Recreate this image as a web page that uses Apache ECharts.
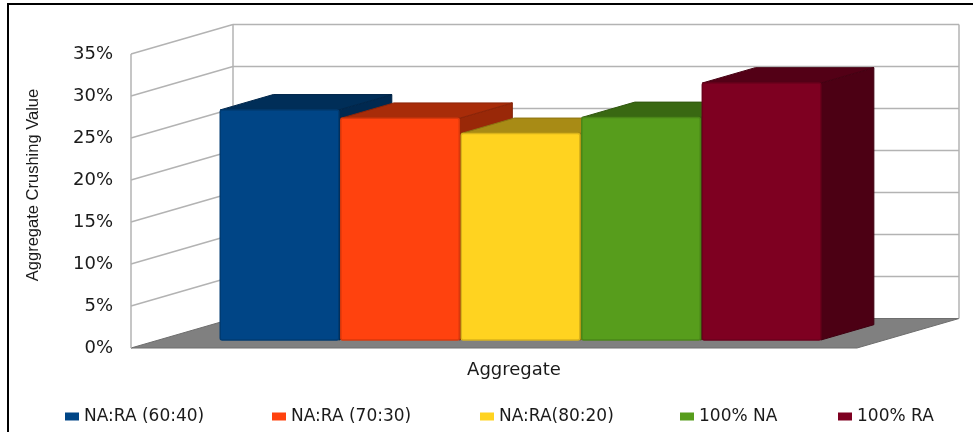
<!DOCTYPE html>
<html>
<head>
<meta charset="utf-8">
<script src="https://cdn.jsdelivr.net/npm/echarts@6/dist/echarts.min.js"></script>
<style>
  html, body { margin: 0; background: #fff; }
  #chart { width: 973px; height: 432px; }
</style>
</head>
<body>
<div id="chart"></div>
<script>
// data
const categories = ['Aggregate'];
const seriesNames = ['NA:RA (60:40)', 'NA:RA (70:30)', 'NA:RA(80:20)', '100% NA', '100% RA'];
const seriesValues = [27.4, 26.4, 24.6, 26.5, 30.6];
const yTicks = [0, 5, 10, 15, 20, 25, 30, 35];

const colors = ['#004586', '#ff420e', '#ffd320', '#579d1c', '#7e0021'];
const legendLeft = [60, 267, 475, 675, 833];

// oblique 3d look: full depth of the floor in pixels
const DX = 102, DY = -29.5;
const BAR_FRONT = 0.27, BAR_BACK = 0.79;
const GROUP = 0.83;
const GRID_LINE = '#b3b3b3';

function shade(hex, f) {
  const n = parseInt(hex.slice(1), 16);
  const r = Math.round(((n >> 16) & 255) * f);
  const g = Math.round(((n >> 8) & 255) * f);
  const b = Math.round((n & 255) * f);
  return 'rgb(' + r + ',' + g + ',' + b + ')';
}

function renderFrame(params, api) {
  const cs = params.coordSys;
  const x0 = cs.x, x1 = cs.x + cs.width;
  const y0 = api.coord([0, yTicks[0]])[1];
  const yTop = api.coord([0, yTicks[yTicks.length - 1]])[1];
  const line = (a, b) => ({
    type: 'line',
    shape: { x1: a[0], y1: a[1], x2: b[0], y2: b[1] },
    style: { stroke: GRID_LINE, lineWidth: 1.5 }
  });
  const children = [
    { type: 'polygon', shape: { points: [[x0, y0], [x0 + DX, y0 + DY], [x1 + DX, y0 + DY], [x1, y0]] },
      style: { fill: '#808080', stroke: '#6e6e6e', lineWidth: 1 } }
  ];
  yTicks.forEach(function (t) {
    if (t === 0) return;
    const y = api.coord([0, t])[1];
    children.push(line([x0, y], [x0 + DX, y + DY]));
    children.push(line([x0 + DX, y + DY], [x1 + DX, y + DY]));
  });
  children.push(line([x0, y0], [x0, yTop]));
  children.push(line([x0 + DX, y0 + DY], [x0 + DX, yTop + DY]));
  children.push(line([x1 + DX, y0 + DY], [x1 + DX, yTop + DY]));
  return { type: 'group', children: children };
}

function renderBar(params, api) {
  const i = params.seriesIndex - 1;
  const base = api.coord([api.value(0), 0]);
  const top = api.coord([api.value(0), api.value(1)]);
  const band = api.size([1, 0])[0];
  const barW = band * GROUP / seriesNames.length;
  const left = base[0] - band * GROUP / 2 + i * barW;
  const xl = left + BAR_FRONT * DX, xr = left + barW - 2 + BAR_FRONT * DX;
  const yb = base[1] + BAR_FRONT * DY, yt = top[1] + BAR_FRONT * DY;
  const ddx = (BAR_BACK - BAR_FRONT) * DX, ddy = (BAR_BACK - BAR_FRONT) * DY;
  const c = colors[i];
  return {
    type: 'group',
    children: [
      { type: 'polygon', shape: { points: [[xr, yt], [xr + ddx, yt + ddy], [xr + ddx, yb + ddy], [xr, yb]] },
        style: { fill: shade(c, 0.6), stroke: shade(c, 0.5), lineWidth: 1 } },
      { type: 'polygon', shape: { points: [[xl, yt], [xl + ddx, yt + ddy], [xr + ddx, yt + ddy], [xr, yt]] },
        style: { fill: shade(c, 0.66), stroke: shade(c, 0.55), lineWidth: 1 } },
      { type: 'rect', shape: { x: xl, y: yt, width: xr - xl, height: yb - yt, r: 2 },
        style: { fill: c, stroke: shade(c, 0.85), lineWidth: 1.5 } }
    ]
  };
}

const chart = echarts.init(document.getElementById('chart'));

const series = [{
  type: 'custom',
  name: 'frame',
  renderItem: renderFrame,
  data: [[0, 0]],
  silent: true,
  z: 1
}];
seriesNames.forEach(function (name, i) {
  series.push({
    type: 'custom',
    name: name,
    renderItem: renderBar,
    itemStyle: { color: colors[i] },
    encode: { x: 0, y: 1 },
    data: [[0, seriesValues[i]]],
    z: 2
  });
});

chart.setOption({
  animation: false,
  backgroundColor: '#fff',
  graphic: [{
    type: 'rect',
    shape: { x: 8, y: 4, width: 1000, height: 500 },
    style: { fill: 'transparent', stroke: '#000', lineWidth: 2 },
    silent: true
  }],
  grid: { left: 131, right: 116, top: 54, bottom: 84 },
  xAxis: {
    type: 'category',
    data: categories,
    name: 'Aggregate',
    nameLocation: 'middle',
    nameGap: 13,
    nameTextStyle: { fontFamily: 'DejaVu Sans', fontSize: 18, color: '#1a1a1a', padding: [0, 0, 0, 40] },
    axisLine: { show: false },
    axisTick: { show: false },
    axisLabel: { show: false }
  },
  yAxis: {
    type: 'value',
    min: 0,
    max: 35,
    interval: 5,
    name: 'Aggregate Crushing Value',
    nameLocation: 'middle',
    nameGap: 89,
    nameTextStyle: { fontFamily: 'Liberation Sans', fontSize: 16.5, color: '#1a1a1a', padding: [0, 0, 0, 32] },
    axisLine: { show: false },
    axisTick: { show: false },
    splitLine: { show: false },
    axisLabel: { formatter: '{value}%', margin: 18, fontFamily: 'DejaVu Sans', fontSize: 18, color: '#1a1a1a' }
  },
  legend: seriesNames.map(function (name, i) {
    return {
      data: [name],
      left: legendLeft[i],
      top: 403,
      icon: 'rect',
      itemWidth: 14,
      itemHeight: 8,
      selectedMode: false,
      textStyle: { fontFamily: 'DejaVu Sans', fontSize: 17, color: '#1a1a1a' }
    };
  }),
  series: series
});
</script>
</body>
</html>
